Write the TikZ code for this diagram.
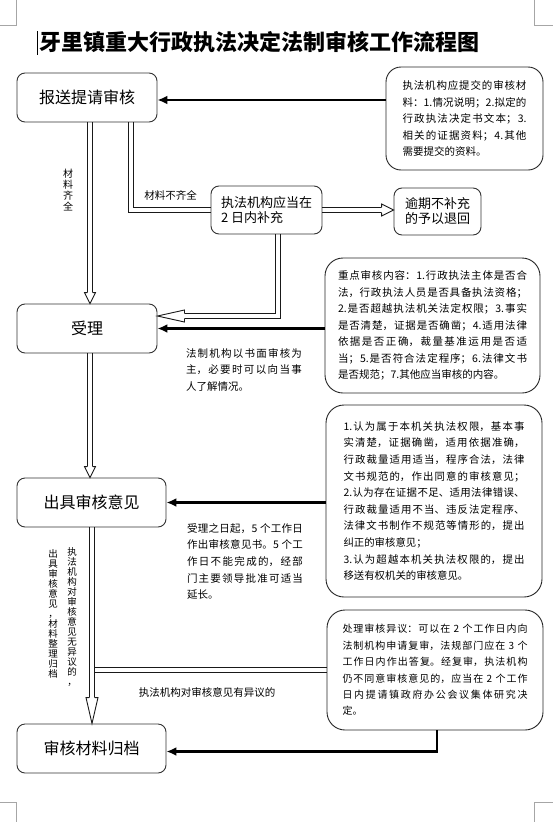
\documentclass[tikz,border=0pt]{standalone}
\usepackage{fontspec}
\setmainfont{Noto Sans CJK SC}
\usetikzlibrary{arrows.meta,calc}
\XeTeXlinebreaklocale "zh"
\XeTeXlinebreakskip=0pt plus 1pt
\newcommand\hdown[3]{\draw[hd] ($(#1)+(-2.9,-#2)$) -- ($(#1)+(-#3,-#2)$) -- (#1) -- ($(#1)+(#3,-#2)$) -- ($(#1)+(2.9,-#2)$);}
\newcommand\hright[3]{\draw[hd] ($(#1)+(-#2,-2.9)$) -- ($(#1)+(-#2,-#3)$) -- (#1) -- ($(#1)+(-#2,#3)$) -- ($(#1)+(-#2,2.9)$);}
\newcommand\hleft[3]{\draw[hd] ($(#1)+(#2,-2.9)$) -- ($(#1)+(#2,-#3)$) -- (#1) -- ($(#1)+(#2,#3)$) -- ($(#1)+(#2,2.9)$);}
\tikzset{
  box/.style={draw=black!80, line width=0.9pt, rounded corners=8pt, fill=white, inner sep=0pt, font=\fontsize{16}{18}\selectfont},
  smallbox/.style={draw=black!80, line width=0.9pt, rounded corners=8pt, fill=white, inner sep=0pt, font=\fontsize{13}{15}\selectfont, align=left},
  note/.style={draw=black!85, line width=0.9pt, rounded corners=18pt, fill=white, inner sep=0pt, font=\fontsize{10.5}{16.5}\selectfont, align=justify},
  plaintext/.style={inner sep=0pt, font=\fontsize{10.5}{16.5}\selectfont, align=justify},
  lbl/.style={inner sep=0pt, font=\fontsize{10.5}{12}\selectfont},
  vlbl/.style={inner sep=0pt, font=\fontsize{9.5}{10}\selectfont, align=center},
  edge/.style={draw=black!90, line width=0.9pt, line join=miter},
  hd/.style={draw=black!90, line width=0.9pt, fill=white, line join=miter},
  thickarr/.style={draw=black, line width=2.6pt, -{Latex[length=10pt,width=9pt]}},
  cornermark/.style={draw=black!35, line width=0.8pt}
}
\begin{document}
\begin{tikzpicture}[x=1pt,y=-1pt]
\useasboundingbox (0,0) rectangle (553,822);
% page corner marks
\draw[cornermark] (0,25) -- (16,25) -- (16,0);
\draw[cornermark] (553,25) -- (534,25) -- (534,0);
\draw[cornermark] (0,802) -- (16,802) -- (16,822);
\draw[cornermark] (553,802) -- (534,802) -- (534,822);
% title
\node[inner sep=0pt, font=\fontsize{22}{24}\selectfont\bfseries] (title) at (259.5,42) {牙里镇重大行政执法决定法制审核工作流程图};
\draw[line width=1.3pt] (37.5,31) -- (37.5,55);
% main boxes
\node[box, minimum width=140pt, minimum height=49pt] (b1) at (87,97.5) {报送提请审核};
\node[box, minimum width=140pt, minimum height=49pt] (b2) at (87,328.5) {受理};
\node[box, minimum width=149pt, minimum height=49pt] (b3) at (91.5,502.5) {出具审核意见};
\node[box, minimum width=149pt, minimum height=49pt] (b4) at (91.5,748.5) {审核材料归档};
\node[smallbox, minimum width=111pt, minimum height=48pt] (bs) at (266.5,210) {执法机构应当在\\2 日内补充};
\node[smallbox, minimum width=87pt, minimum height=47pt] (bt) at (437.5,211.5) {逾期不补充\\的予以退回};
% note boxes
\node[note, rounded corners=15pt, minimum width=157pt, minimum height=103pt, text width=124pt] (n1) at (464.5,118.5) {执法机构应提交的审核材\break 料：1.情况说明；2.拟定的\break 行政执法决定书文本；3.\break 相关的证据资料；4.其他\break 需要提交的资料。};
\node[note, minimum width=215pt, minimum height=135pt, text width=189pt] (n2) at (432.5,325.5) {重点审核内容：1.行政执法主体是否合\break 法，行政执法人员是否具备执法资格；\break 2.是否超越执法机关法定权限；3.事实\break 是否清楚，证据是否确凿；4.适用法律\break 依据是否正确，裁量基准运用是否适\break 当；5.是否符合法定程序；6.法律文书\break 是否规范；7.其他应当审核的内容。};
\node[note, minimum width=216pt, minimum height=192pt, text width=181pt, font=\fontsize{10.4}{16.6}\selectfont] (n3) at (434,501) {1.认为属于本机关执法权限，基本事\break 实清楚，证据确凿，适用依据准确，\break 行政裁量适用适当，程序合法，法律\break 文书规范的，作出同意的审核意见；\break 2.认为存在证据不足、适用法律错误、\break 行政裁量适用不当、违反法定程序、\break 法律文书制作不规范等情形的，提出\break 纠正的审核意见；\hfil\break 3.认为超越本机关执法权限的，提出\break 移送有权机关的审核意见。};
\node[note, minimum width=216pt, minimum height=120pt, text width=185pt, font=\fontsize{10}{16.4}\selectfont] (n4) at (435,670) {处理审核异议：可以在 2 个工作日内向\break 法制机构申请复审，法规部门应在 3 个\break 工作日内作出答复。经复审，执法机构\break 仍不同意审核意见的，应当在 2 个工作\break 日内提请镇政府办公会议集体研究决\break 定。};
% free notes
\node[plaintext, text width=116pt] (m1) at (244,369.5) {法制机构以书面审核为\break 主，必要时可以向当事\break 人了解情况。};
\node[plaintext, text width=116pt, font=\fontsize{10.5}{16.7}\selectfont] (m2) at (245,561.5) {受理之日起，5 个工作日\break 作出审核意见书。5 个工\break 作日不能完成的，经部\break 门主要领导批准可适当\break 延长。};
% labels
\node[lbl] (l1) at (170.5,195) {材料不齐全};
\node[lbl] (l2) at (207,692) {执法机构对审核意见有异议的};
\node[vlbl, font=\fontsize{10}{11}\selectfont] (l3) at (68,190) {材\\料\\齐\\全};
\node[vlbl] (l4) at (72,617.5) {执\\法\\机\\构\\对\\审\\核\\意\\见\\无\\异\\议\\的\\，};
\node[vlbl] (l5) at (53,613.5) {出\\具\\审\\核\\意\\见\\，\\材\\料\\整\\理\\归\\档};
% coordinates
\coordinate (a1s) at ($(b1.south)+(3,0)$);
\coordinate (a1t) at (a1s |- b2.north);
\coordinate (a2s) at ($(b1.south)+(44,0)$);
\coordinate (a2e) at (bs.west);
\coordinate (a3s) at (bs.east);
\coordinate (a3t) at (bs.east -| bt.west);
\coordinate (a4s) at ($(bs.south)+(11.5,0)$);
\coordinate (a4t) at ($(b2.east)+(0,-12.5)$);
\coordinate (a5s) at ($(b2.south)+(3,0)$);
\coordinate (a5t) at (a5s |- b3.north);
\coordinate (a6s) at ($(b3.south)+(0.5,0)$);
\coordinate (a6t) at (a6s |- b4.north);
\coordinate (a7s) at (n4.west);
\coordinate (a7e) at ($(a6s |- n4.west)+(2.9,0)$);
% double-line connectors, drawn as two parallel lines
\draw[edge] ($(a1s)+(-2.9,0)$) -- ($(a1t)+(-2.9,-11)$);
\draw[edge] ($(a1s)+(2.9,0)$) -- ($(a1t)+(2.9,-11)$);
\draw[edge] ($(a2s)+(-2.9,0)$) |- ($(a2e)+(0,2.9)$);
\draw[edge] ($(a2s)+(2.9,0)$) |- ($(a2e)+(0,-2.9)$);
\draw[edge] ($(a3s)+(0,-2.9)$) -- ($(a3t)+(-12,-2.9)$);
\draw[edge] ($(a3s)+(0,2.9)$) -- ($(a3t)+(-12,2.9)$);
\draw[edge] ($(a4s)+(2.9,0)$) |- ($(a4t)+(27,2.9)$);
\draw[edge] ($(a4s)+(-2.9,0)$) |- ($(a4t)+(27,-2.9)$);
\draw[edge] ($(a5s)+(-2.9,0)$) -- ($(a5t)+(-2.9,-11)$);
\draw[edge] ($(a5s)+(2.9,0)$) -- ($(a5t)+(2.9,-11)$);
\draw[edge] ($(a6s)+(-2.9,0)$) -- ($(a6t)+(-2.9,-26)$);
\draw[edge] ($(a6s)+(2.9,0)$) -- ($(a6t)+(2.9,-26)$);
\draw[edge] ($(a7s)+(0,-2.9)$) -- ($(a7e)+(0,-2.9)$);
\draw[edge] ($(a7s)+(0,2.9)$) -- ($(a7e)+(0,2.9)$);
\hdown{a1t}{11}{5.5}
\hright{a3t}{12}{6}
\hleft{a4t}{27}{6}
\hdown{a5t}{11}{5.5}
\hdown{a6t}{26}{6}
% thick connectors
\coordinate (t1) at ($(b1.east)+(0,2.5)$);
\draw[thickarr] (n1.west |- t1) -- (t1);
\draw[thickarr] (n2.west |- b2.east) -- (b2.east);
\draw[thickarr] (n3.west |- b3.east) -- (b3.east);
\draw[thickarr] ($(n4.south)+(2,0)$) |- ($(b4.east)+(0,3)$);
\end{tikzpicture}
\end{document}
